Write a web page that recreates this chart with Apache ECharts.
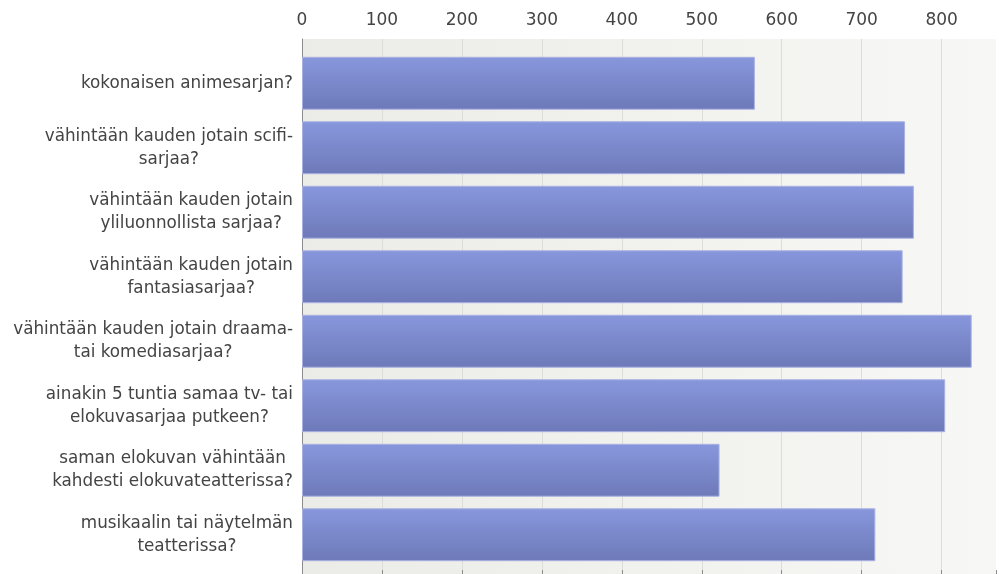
<!DOCTYPE html>
<html>
<head>
<meta charset="utf-8">
<script src="https://cdn.jsdelivr.net/npm/echarts@6/dist/echarts.min.js"></script>
<style>html,body{margin:0;padding:0;background:#fff}#c{width:999px;height:574px}</style>
</head>
<body>
<div id="c"></div>
<script>
const categories = [
  "kokonaisen animesarjan?",
  "vähintään kauden jotain scifi-\nsarjaa?",
  "vähintään kauden jotain\nyliluonnollista sarjaa?",
  "vähintään kauden jotain\nfantasiasarjaa?",
  "vähintään kauden jotain draama-\ntai komediasarjaa?",
  "ainakin 5 tuntia samaa tv- tai\nelokuvasarjaa putkeen?",
  "saman elokuvan vähintään\nkahdesti elokuvateatterissa?",
  "musikaalin tai näytelmän\nteatterissa?"
];
const values = [564, 751, 762, 748, 834, 801, 520, 714];
const axisMin = 0, axisMax = 868, axisInterval = 100;

const chart = echarts.init(document.getElementById('c'), null, {renderer: 'canvas'});
const font = 'DejaVu Sans';
chart.setOption({
  animation: false,
  backgroundColor: '#ffffff',
  grid: [
    {left: 302, right: 0, top: 39, bottom: 0, show: true, borderWidth: 0,
     backgroundColor: new echarts.graphic.LinearGradient(0, 0, 1, 0, [
       {offset: 0, color: '#ebece7'}, {offset: 1, color: '#f7f7f5'}])},
    {left: 302, right: 0, top: 51, bottom: 7}
  ],
  xAxis: [
    {gridIndex: 0, type: 'value', position: 'top', min: axisMin, max: axisMax, interval: axisInterval,
     axisLine: {show: true, lineStyle: {color: '#8c8c8c', width: 1}},
     axisTick: {show: true, length: 4, lineStyle: {color: '#8c8c8c'}},
     axisLabel: {margin: 10, color: '#444', fontFamily: font, fontSize: 17,
       formatter: v => (v % 100 === 0 ? String(v) : '')},
     splitLine: {show: true, showMaxLine: false, lineStyle: {color: '#dcdcd8', width: 1}}},
    {gridIndex: 1, type: 'value', min: axisMin, max: axisMax, interval: axisInterval, show: false}
  ],
  yAxis: [
    {gridIndex: 0, type: 'value', min: 0, max: 1, axisLabel: {show: false}, axisTick: {show: false},
     splitLine: {show: false}, axisLine: {show: true, lineStyle: {color: '#8c8c8c'}}},
    {gridIndex: 1, type: 'category', inverse: true, data: categories,
     axisLine: {show: false}, axisTick: {show: false},
     axisLabel: {margin: 9, align: 'right', color: '#444', fontFamily: font, fontSize: 16.8, lineHeight: 23,
       formatter: v => v.split('\n').map(l => '{c|' + l + '}').join('\n'),
       rich: {c: {align: 'center', color: '#444', fontFamily: font, fontSize: 16.8, lineHeight: 23}}}}
  ],
  series: [{
    type: 'bar', xAxisIndex: 1, yAxisIndex: 1, data: values, barCategoryGap: '18%',
    itemStyle: {
      color: new echarts.graphic.LinearGradient(0, 0, 0, 1, [
        {offset: 0, color: '#8897dd'}, {offset: 1, color: '#6d79b8'}]),
      borderColor: '#a9b1e2', borderWidth: 1
    }
  }]
});
</script>
</body>
</html>
